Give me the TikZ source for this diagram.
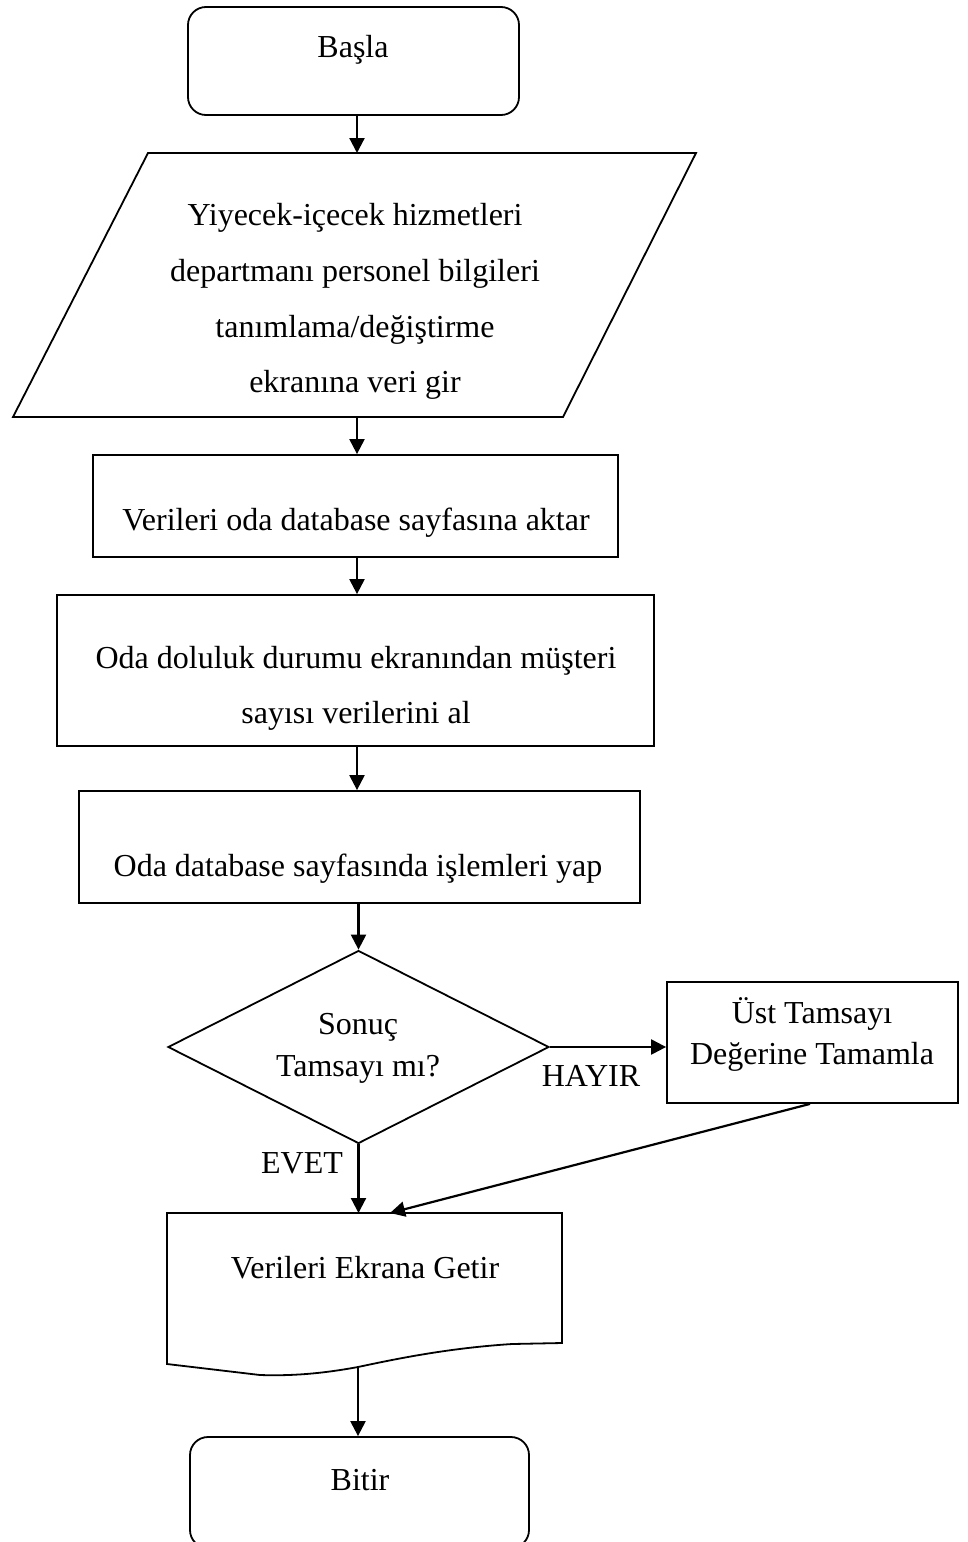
\documentclass[tikz,border=0pt]{standalone}
\usepackage{fontspec}
\setmainfont{Liberation Serif}
\usetikzlibrary{shapes.geometric,arrows.meta}
\begin{document}
\begin{tikzpicture}[x=1pt,y=-1pt,
  box/.style={draw,line width=1.8pt,inner sep=0pt},
  lbl/.style={font=\fontsize{32}{55.7}\selectfont,align=center,inner sep=0pt},
  flow/.style={line width=2.2pt,-{Triangle[length=15pt,width=15pt]}}]
\useasboundingbox (0,0) rectangle (968,1542);
\coordinate (axis) at (357,0);

% start terminal
\node[box,rounded corners=18pt,minimum width=331pt,minimum height=108pt] (start) at (353.5,61) {};
\node[lbl] (startT) at (353,50) {Başla};

% input parallelogram
\draw[line width=1.8pt] (148,153) -- (696,153) -- (563,417) -- (13,417) -- cycle;
\coordinate (inTop) at (357,153);
\coordinate (inBot) at (357,417);
\node[lbl] (inT) at (355,301.5) {Yiyecek-içecek hizmetleri\\departmanı personel bilgileri\\tanımlama/değiştirme\\ekranına veri gir};

% processes
\node[box,minimum width=525pt,minimum height=102pt] (p1) at (355.5,506) {};
\node[lbl] (p1T) at (356,523) {Verileri oda database sayfasına aktar};
\node[box,minimum width=597pt,minimum height=151pt] (p2) at (355.5,670.5) {};
\node[lbl,font=\fontsize{32}{55}\selectfont] (p2T) at (356,688.5) {Oda doluluk durumu ekranından müşteri\\sayısı verilerini al};
\node[box,minimum width=561pt,minimum height=112pt] (p3) at (359.5,847) {};
\node[lbl] (p3T) at (358,869) {Oda database sayfasında işlemleri yap};

% decision
\node[box,diamond,aspect=1.974,minimum width=381pt,minimum height=193pt] (dec) at (358.5,1047) {};
\node[lbl,font=\fontsize{32}{42}\selectfont] (decT) at (358,1048) {Sonuç\\Tamsayı mı?};
\node[box,minimum width=291pt,minimum height=121pt] (fix) at (812.5,1042.5) {};
\node[lbl,font=\fontsize{32}{41}\selectfont] (fixT) at (812,1034.5) {Üst Tamsayı\\Değerine Tamamla};

% document output
\draw[line width=1.8pt] (167,1213) -- (562,1213) -- (562,1343) -- (512,1344)
  .. controls (450,1348) and (400,1358) .. (358,1367)
  .. controls (320,1374) and (290,1376) .. (260,1375) -- (167,1364) -- cycle;
\coordinate (docTop) at (358,1213);
\coordinate (docIn) at (390,1213);
\coordinate (docBot) at (358,1367);
\node[lbl] (docT) at (365,1268) {Verileri Ekrana Getir};

% end terminal
\node[box,rounded corners=18pt,minimum width=339pt,minimum height=111pt] (stop) at (359.5,1492.5) {};
\node[lbl] (stopT) at (360,1480) {Bitir};

% connectors
\draw[flow] (axis |- start.south) -- (inTop);
\draw[flow] (inBot) -- (axis |- p1.north);
\draw[flow] (axis |- p1.south) -- (axis |- p2.north);
\draw[flow] (axis |- p2.south) -- (axis |- p3.north);
\draw[flow] (dec.north |- p3.south) -- (dec.north);
\draw[flow] (dec.east) -- (fix.west |- dec.east);
\draw[flow] (dec.south) -- (dec.south |- docTop);
\draw[flow] ([xshift=-2.5pt]fix.south) -- (docIn);
\draw[flow] (docBot) -- (docBot |- stop.north);

% branch labels
\node[lbl] (no) at (591,1076) {HAYIR};
\node[lbl] (yes) at (302,1163) {EVET};
\end{tikzpicture}
\end{document}
